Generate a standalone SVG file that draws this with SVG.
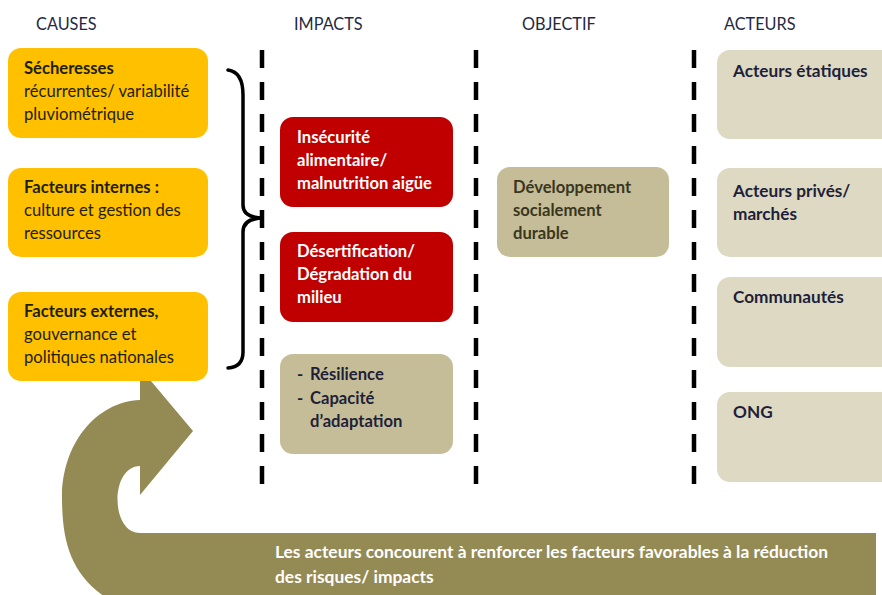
<svg xmlns="http://www.w3.org/2000/svg" width="882" height="595" viewBox="0 0 882 595">
<style>
  text { font-family: Lato, "Open Sans", "Liberation Sans", sans-serif; font-size: 16.6px; }
  .hdr { fill: #1F2A44; font-size: 16.3px; }
  .cause { fill: #FFC000; }
  .red { fill: #C00000; }
  .tan { fill: #C4BD97; }
  .act { fill: #DDD9C3; }
  .dk { fill: #1E1E05; }
  .b { font-weight: bold; }
  .wt { fill: #FFFFFF; font-weight: bold; }
  .nv { fill: #1F1F3A; font-weight: bold; }
  .ol { fill: #3A361E; font-weight: bold; }
  .big { font-size: 17.2px; }
  .foot { font-size: 17.4px; }
  .sep { stroke: #000; stroke-width: 4.5; stroke-dasharray: 18 14; fill: none; }
  .brace { stroke: #000; stroke-width: 3.5; fill: none; stroke-linecap: round; }
  .arrow { fill: #948A54; }
</style>

<g id="headers">
  <text class="hdr" x="36" y="30">CAUSES</text>
  <text class="hdr" x="294" y="30">IMPACTS</text>
  <text class="hdr" x="522" y="30">OBJECTIF</text>
  <text class="hdr" x="724" y="30">ACTEURS</text>
</g>

<g id="separators">
  <line class="sep" x1="262" y1="50" x2="262" y2="488"/>
  <line class="sep" x1="476" y1="50" x2="476" y2="488"/>
  <line class="sep" x1="694" y1="50" x2="694" y2="488"/>
</g>

<g id="connectors">
  <path id="feedback-arrow" class="arrow" d="M 270,533 L 140,533 C 110,533 110,466 140,466 L 140,495 L 193,431 L 140,368 L 140,400 C 95,402 62,445 62,497 C 62,545 72,580 118,605 L 270,605 Z"/>
  <path id="brace" class="brace" d="M 228,70 Q 243,72 243,95 L 243,205 Q 243,218 264,218 Q 243,218 243,232 L 243,352 Q 243,367 228,368"/>
</g>

<g id="cause-secheresses">
  <rect class="cause" x="8" y="48" width="200" height="90" rx="13"/>
  <text class="dk b" x="24" y="74">Sécheresses</text>
  <text class="dk" x="24" y="97">récurrentes/ variabilité</text>
  <text class="dk" x="24" y="120">pluviométrique</text>
</g>
<g id="cause-internes">
  <rect class="cause" x="8" y="168" width="200" height="89" rx="13"/>
  <text class="dk b" x="24" y="193">Facteurs internes :</text>
  <text class="dk" x="24" y="216">culture et gestion des</text>
  <text class="dk" x="24" y="239">ressources</text>
</g>
<g id="cause-externes">
  <rect class="cause" x="8" y="292" width="200" height="89" rx="13"/>
  <text class="dk b" x="24" y="317">Facteurs externes,</text>
  <text class="dk" x="24" y="340">gouvernance et</text>
  <text class="dk" x="24" y="363">politiques nationales</text>
</g>

<g id="impact-insecurite">
  <rect class="red" x="280" y="117" width="173" height="90" rx="13"/>
  <text class="wt" x="297" y="143">Insécurité</text>
  <text class="wt" x="297" y="166">alimentaire/</text>
  <text class="wt" x="297" y="189">malnutrition aigüe</text>
</g>
<g id="impact-desertification">
  <rect class="red" x="280" y="232" width="173" height="90" rx="13"/>
  <text class="wt" x="297" y="257">Désertification/</text>
  <text class="wt" x="297" y="280">Dégradation du</text>
  <text class="wt" x="297" y="303">milieu</text>
</g>
<g id="impact-resilience">
  <rect class="tan" x="280" y="354" width="173" height="100" rx="13"/>
  <text class="nv" x="297" y="380">-</text>
  <text class="nv" x="310" y="380">Résilience</text>
  <text class="nv" x="297" y="404">-</text>
  <text class="nv" x="310" y="404">Capacité</text>
  <text class="nv" x="310" y="427">d’adaptation</text>
</g>

<g id="objectif-developpement">
  <rect class="tan" x="497" y="167" width="172" height="90" rx="13"/>
  <text class="ol" x="513" y="193">Développement</text>
  <text class="ol" x="513" y="216">socialement</text>
  <text class="ol" x="513" y="239">durable</text>
</g>

<g id="acteurs-etatiques">
  <rect class="act" x="717" y="50" width="180" height="89" rx="13"/>
  <text class="nv big" x="733" y="77">Acteurs étatiques</text>
</g>
<g id="acteurs-prives">
  <rect class="act" x="717" y="168" width="180" height="89" rx="13"/>
  <text class="nv big" x="733" y="197">Acteurs privés/</text>
  <text class="nv big" x="733" y="220">marchés</text>
</g>
<g id="acteurs-communautes">
  <rect class="act" x="717" y="277" width="180" height="90" rx="13"/>
  <text class="nv big" x="733" y="303">Communautés</text>
</g>
<g id="acteurs-ong">
  <rect class="act" x="717" y="392" width="180" height="90" rx="13"/>
  <text class="nv big" x="733" y="418">ONG</text>
</g>

<g id="feedback-text">
  <rect class="arrow" x="263" y="533" width="613" height="72"/>
  <text class="wt foot" x="275" y="558">Les acteurs concourent à renforcer les facteurs favorables à la réduction</text>
  <text class="wt foot" x="275" y="583">des risques/ impacts</text>
</g>
</svg>
